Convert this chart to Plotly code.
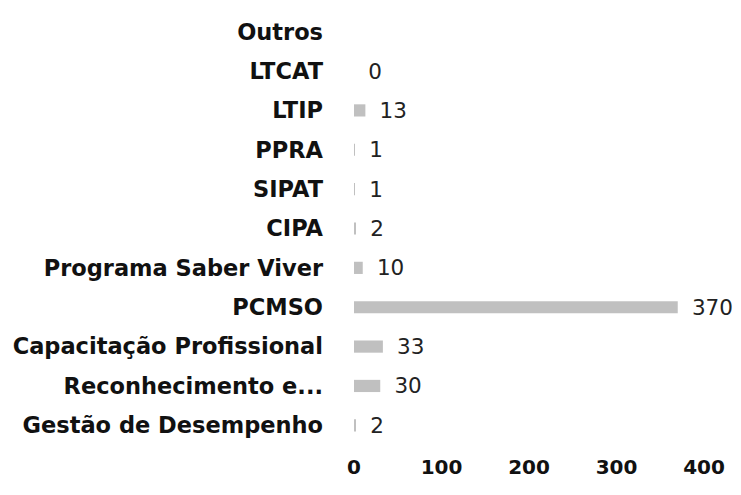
import plotly.graph_objects as go

categories = ["Gestão de Desempenho", "Reconhecimento e...", "Capacitação Profissional",
              "PCMSO", "Programa Saber Viver", "CIPA", "SIPAT", "PPRA", "LTIP", "LTCAT", "Outros"]
values = [2, 30, 33, 370, 10, 2, 1, 1, 13, 0, None]
x_ticks = [0, 100, 200, 300, 400]

labels = ["" if v is None else " \u2009" + str(v) for v in values]

FONT = "DejaVu Sans, sans-serif"

fig = go.Figure(go.Bar(
    y=categories, x=values, orientation="h",
    marker=dict(color="#c0c0c0", line=dict(width=0)),
    text=labels, textposition="outside", constraintext="none",
    textfont=dict(family=FONT, size=21.5, color="#222"),
    cliponaxis=False,
))

# page has an 8px body margin; size the figure so it fits the 741x495 window
fig.update_layout(
    width=733, height=479,
    margin=dict(l=346, r=37, t=4, b=42),
    paper_bgcolor="white", plot_bgcolor="white",
    bargap=0.69, showlegend=False,
    font=dict(family=FONT, color="#111"),
)
fig.update_xaxes(range=[0, 400], tickvals=x_ticks, showgrid=False, zeroline=False,
                 showline=False, automargin=False,
                 tickfont=dict(family=FONT, size=20, weight="bold", color="#111"),
                 ticklabelstandoff=8)
fig.update_yaxes(categoryorder="array", categoryarray=categories, showgrid=False,
                 showline=False, automargin=False,
                 tickfont=dict(family=FONT, size=22.5, weight="bold", color="#111"),
                 ticklabelstandoff=30)

fig.write_html("out.html")
